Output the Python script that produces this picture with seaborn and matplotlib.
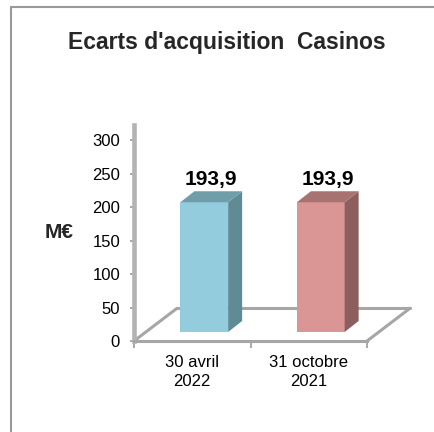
import matplotlib
matplotlib.use("Agg")
import matplotlib.pyplot as plt
import matplotlib.transforms as mtransforms
from matplotlib.patches import Polygon
from matplotlib.lines import Line2D
import seaborn as sns

# données
categories = ["30 avril\n2022", "31 octobre\n2021"]
values = [193.9, 193.9]
value_labels = ["193,9", "193,9"]
y_ticks = [0, 50, 100, 150, 200, 250, 300]

front_colors = ["#93CDDD", "#D99694"]
side_colors = ["#5F8B95", "#8C5F5E"]
top_colors = ["#6F9DA9", "#A87271"]
floor_color = "#A6A6A6"

sns.set_theme(style="white")
plt.rcParams["font.family"] = ["Liberation Sans", "DejaVu Sans"]

W, H = 434, 432
fig = plt.figure(figsize=(W / 100, H / 100), dpi=100)
fig.patch.set_facecolor("white")
ax_w, ax_h = 233, 216
ax = fig.add_axes([134 / W, 91 / H, ax_w / W, ax_h / H])
y_max = 322.8
ax.set_xlim(-0.5, 1.5)
ax.set_ylim(0, y_max)

sns.barplot(x=categories, y=values, hue=categories, palette=front_colors,
            saturation=1, width=0.41, legend=False, ax=ax, zorder=3,
            edgecolor="none")

# effet 3D : décalage des barres et profondeur
shift = mtransforms.ScaledTranslation(12 / 100, 9 / 100, fig.dpi_scale_trans)
tr = ax.transData + shift
dx = 14 / (ax_w / 2.0)
dy = 11 / (ax_h / y_max)

for i, p in enumerate(ax.patches):
    x0, w, h = p.get_x(), p.get_width(), p.get_height()
    p.set_transform(tr)
    side = Polygon([(x0 + w, 0), (x0 + w + dx, dy), (x0 + w + dx, h + dy), (x0 + w, h)],
                   closed=True, transform=tr, facecolor=side_colors[i],
                   edgecolor="none", zorder=3)
    top = Polygon([(x0, h), (x0 + dx, h + dy), (x0 + w + dx, h + dy), (x0 + w, h)],
                  closed=True, transform=tr, facecolor=top_colors[i],
                  edgecolor="none", zorder=3)
    ax.add_patch(side)
    ax.add_patch(top)
    ax.annotate(value_labels[i], xy=(x0 + w / 2 + dx / 2, h + dy), xycoords=tr,
                xytext=(0, 4.5), textcoords="offset points", ha="center",
                va="baseline", fontsize=15, fontweight="bold", color="black")

# plancher
fdx = 0.37
fdy = 49
ax.plot([-0.5, -0.5 + fdx], [0, fdy], color=floor_color, lw=2.2, clip_on=False, zorder=1)
ax.plot([-0.5 + fdx, 1.5 + fdx], [fdy, fdy], color=floor_color, lw=2.2, clip_on=False, zorder=1)
ax.plot([1.5, 1.5 + fdx], [0, fdy], color=floor_color, lw=2.2, clip_on=False, zorder=1)

for s in ["top", "right"]:
    ax.spines[s].set_visible(False)
ax.spines["left"].set_color("#B3B3B3")
ax.spines["left"].set_linewidth(3.3)
ax.spines["bottom"].set_color(floor_color)
ax.spines["bottom"].set_linewidth(2.2)
ax.set_facecolor("none")

ax.set_yticks(y_ticks)
ax.tick_params(axis="y", left=True, length=3, width=1.2, color="#999999",
               pad=7, labelsize=12, labelcolor="black")
ax.tick_params(axis="x", which="major", length=0, pad=10, labelsize=12,
               labelcolor="black")
ax.set_xticks([-0.5, 0.5, 1.5], minor=True)
ax.tick_params(axis="x", which="minor", bottom=True, length=5, width=1.2,
               color="#999999")
for lbl in ax.get_xticklabels():
    lbl.set_linespacing(1.35)
ax.set_xlabel("")
ax.set_ylabel("")

fig.text(59 / W, 1 - 233 / H, "M€", ha="center", va="center",
         fontsize=15, fontweight="bold")
fig.text(227 / W, 1 - 42 / H, "Ecarts d'acquisition  Casinos", ha="center",
         va="center", fontsize=16.5, fontweight="bold")

# cadre
fig.add_artist(Line2D([11 / W, 11 / W], [0, 1 - 7 / H], transform=fig.transFigure,
                      color="#999999", lw=1.5))
fig.add_artist(Line2D([11 / W, 1], [1 - 7 / H, 1 - 7 / H], transform=fig.transFigure,
                      color="#999999", lw=1.5))

fig.savefig("out.png", dpi=100)
